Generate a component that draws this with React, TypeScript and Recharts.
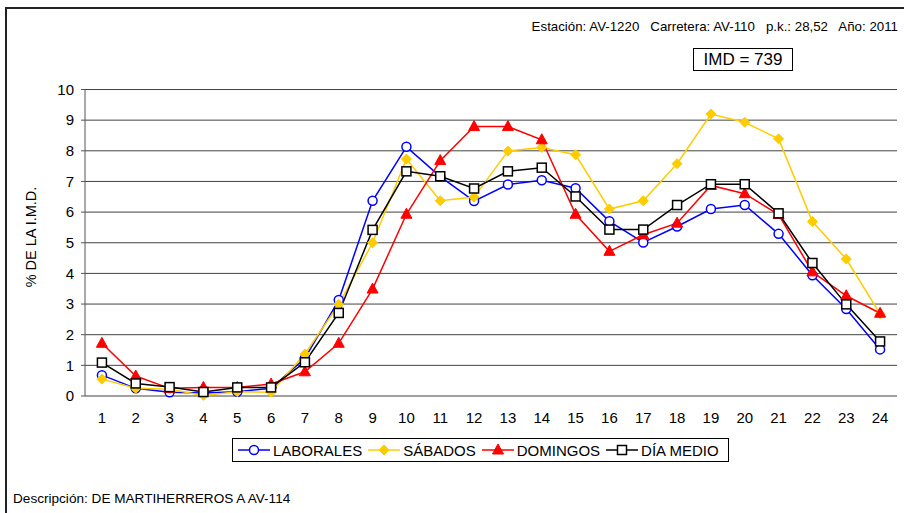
import React from 'react';
import { LineChart, Line, XAxis, YAxis, CartesianGrid, Legend } from 'recharts';

const hours = [1, 2, 3, 4, 5, 6, 7, 8, 9, 10, 11, 12, 13, 14, 15, 16, 17, 18, 19, 20, 21, 22, 23, 24];
const laborales = [0.68, 0.25, 0.12, 0.1, 0.14, 0.25, 1.23, 3.13, 6.37, 8.13, 7.16, 6.36, 6.9, 7.04, 6.78, 5.7, 5.01, 5.53, 6.1, 6.23, 5.29, 3.94, 2.84, 1.52];
const sabados = [0.55, 0.25, 0.22, 0.02, 0.14, 0.12, 1.37, 2.99, 5.0, 7.73, 6.37, 6.49, 7.99, 8.11, 7.87, 6.1, 6.37, 7.58, 9.2, 8.93, 8.39, 5.69, 4.47, 2.68];
const domingos = [1.72, 0.65, 0.25, 0.28, 0.28, 0.39, 0.79, 1.72, 3.49, 5.93, 7.68, 8.79, 8.79, 8.36, 5.93, 4.72, 5.26, 5.64, 6.87, 6.6, 5.92, 4.05, 3.27, 2.7];
const diaMedio = [1.09, 0.41, 0.29, 0.13, 0.28, 0.28, 1.1, 2.71, 5.42, 7.33, 7.17, 6.77, 7.33, 7.45, 6.51, 5.43, 5.43, 6.23, 6.91, 6.91, 5.96, 4.34, 2.99, 1.78];
const yTicks = [0, 1, 2, 3, 4, 5, 6, 7, 8, 9, 10];
const tickEdges = [0.5, ...hours.map((h) => h + 0.5)];

const data = hours.map((h, i) => ({
  hora: h,
  laborales: laborales[i],
  sabados: sabados[i],
  domingos: domingos[i],
  medio: diaMedio[i],
}));

const FONT = '"Liberation Sans", Arial, sans-serif';

// marker shapes
const Circle = ({ cx, cy }: any) => (
  <circle cx={cx} cy={cy} r={4.5} fill="#fff" stroke="#0000ff" strokeWidth={1.5} />
);
const Diamond = ({ cx, cy }: any) => (
  <polygon points={`${cx},${cy - 5} ${cx + 5},${cy} ${cx},${cy + 5} ${cx - 5},${cy}`} fill="#ffcc00" stroke="#ffcc00" />
);
const Triangle = ({ cx, cy }: any) => (
  <polygon points={`${cx},${cy - 6} ${cx + 5.5},${cy + 4} ${cx - 5.5},${cy + 4}`} fill="#ff0000" stroke="#ff0000" />
);
const Square = ({ cx, cy }: any) => (
  <rect x={cx - 4.5} y={cy - 4.5} width={9} height={9} fill="#fff" stroke="#000" strokeWidth={1.5} />
);

const series = [
  { key: 'laborales', name: 'LABORALES', color: '#0000ff', Shape: Circle },
  { key: 'sabados', name: 'SÁBADOS', color: '#ffcc00', Shape: Diamond },
  { key: 'domingos', name: 'DOMINGOS', color: '#ff0000', Shape: Triangle },
  { key: 'medio', name: 'DÍA MEDIO', color: '#000000', Shape: Square },
];

const LegendBox = () => (
  <div
    style={{
      display: 'flex',
      alignItems: 'center',
      border: '1px solid #000',
      height: 22,
      padding: '0 4px',
      fontFamily: FONT,
      fontSize: 15,
      color: '#000',
      whiteSpace: 'nowrap',
    }}
  >
    {series.map((s) => (
      <div key={s.key} style={{ display: 'flex', alignItems: 'center', marginRight: 5 }}>
        <svg width={34} height={14}>
          <line x1={1} y1={7} x2={33} y2={7} stroke={s.color} strokeWidth={1.5} />
          <s.Shape cx={17} cy={7} />
        </svg>
        <span style={{ marginLeft: 2 }}>{s.name}</span>
      </div>
    ))}
  </div>
);

export default function App() {
  return (
    <div style={{ position: 'absolute', left: 0, top: 0, width: 904, height: 513, background: '#fff', overflow: 'hidden', fontFamily: FONT }}>
      <div style={{ position: 'absolute', left: 5, top: 7, right: -10, bottom: -10, borderLeft: '2px solid #222', borderTop: '2px solid #222' }} />
      <div style={{ position: 'absolute', right: 6, top: 19, fontSize: 13.3, whiteSpace: 'pre', color: '#000' }}>
        {'Estación: AV-1220   Carretera: AV-110   p.k.: 28,52   Año: 2011'}
      </div>
      <div
        style={{
          position: 'absolute',
          left: 693,
          top: 48,
          width: 98,
          height: 21,
          border: '1px solid #000',
          fontSize: 17,
          lineHeight: '21px',
          textAlign: 'center',
          color: '#000',
        }}
      >
        IMD = 739
      </div>
      <div
        style={{
          position: 'absolute',
          left: 31,
          top: 237,
          transform: 'translate(-50%, -50%) rotate(-90deg)',
          fontSize: 14.5,
          whiteSpace: 'nowrap',
          color: '#000',
        }}
      >
        % DE LA I.M.D.
      </div>
      <div style={{ position: 'absolute', left: 13, top: 491, fontSize: 13.6, color: '#000' }}>
        Descripción: DE MARTIHERREROS A AV-114
      </div>
      <div style={{ position: 'absolute', left: 0, top: 0 }}>
        <LineChart width={904} height={513} data={data} margin={{ top: 89.5, right: 7, bottom: 87, left: 25 }}>
          <CartesianGrid horizontal vertical={false} stroke="#222" strokeOpacity={0.85} />
          <XAxis
            xAxisId="edges"
            dataKey="hora"
            type="number"
            domain={[0.5, 24.5]}
            ticks={tickEdges}
            tick={false}
            tickSize={5}
            height={0}
            stroke="#555"
            tickLine={{ stroke: '#555' }}
          />
          <XAxis
            dataKey="hora"
            type="number"
            domain={[0.5, 24.5]}
            ticks={hours}
            interval={0}
            axisLine={false}
            tickLine={false}
            tickSize={0}
            tickMargin={16}
            height={30}
            tick={{ fill: '#000', fontSize: 15, fontFamily: FONT }}
          />
          <YAxis
            domain={[0, 10]}
            ticks={yTicks}
            interval={0}
            width={60}
            tickSize={4}
            tickMargin={7}
            stroke="#555"
            tick={{ fill: '#000', fontSize: 15, fontFamily: FONT }}
          />
          <Legend
            layout="horizontal"
            verticalAlign="middle"
            align="center"
            wrapperStyle={{ left: 232, top: 438, width: 'auto' }}
            content={() => <LegendBox />}
          />
          {series.map((s) => (
            <Line
              key={s.key}
              dataKey={s.key}
              name={s.name}
              stroke={s.color}
              strokeWidth={1.5}
              dot={(p: any) => <s.Shape key={`${s.key}-${p.index}`} cx={p.cx} cy={p.cy} />}
              activeDot={false}
              isAnimationActive={false}
            />
          ))}
        </LineChart>
      </div>
    </div>
  );
}
